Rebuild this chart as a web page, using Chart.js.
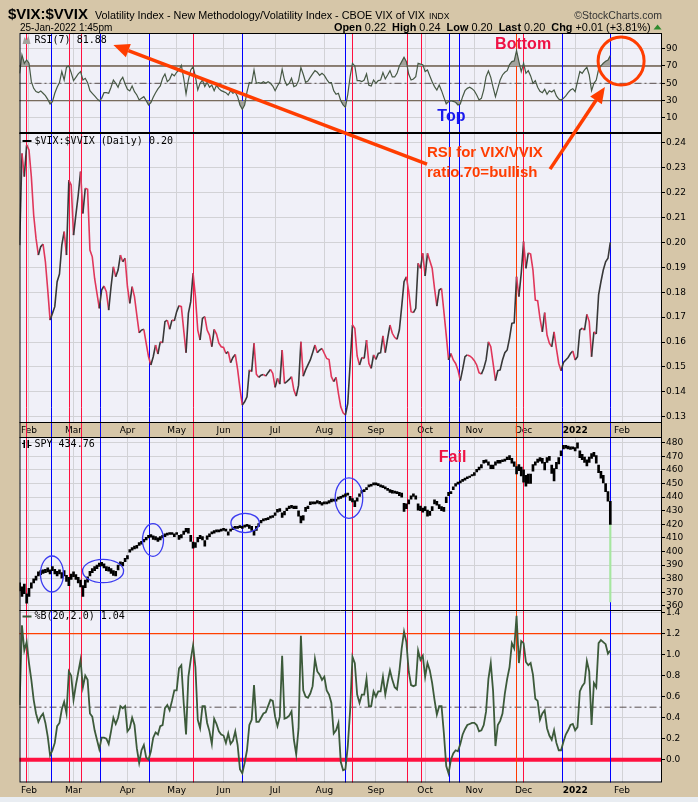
<!DOCTYPE html>
<html>
<head>
<meta charset="utf-8">
<title>$VIX:$VVIX</title>
<script src="https://cdn.jsdelivr.net/npm/chart.js@4.4.1/dist/chart.umd.min.js"></script>
<style>
  html, body { margin: 0; padding: 0; background: #d6c6a8; }
  canvas { display: block; }
</style>
</head>
<body>
<canvas id="chart" width="698" height="802"></canvas>
<script>
// ---- data: one value per trading day, 26-Jan-2021 .. 25-Jan-2022 (index 0..252) ----
const monthIdx = [4, 23, 46, 67, 87, 109, 130, 152, 173, 194, 215, 237, 257];
const monthLabels = ["Feb", "Mar", "Apr", "May", "Jun", "Jul", "Aug", "Sep", "Oct", "Nov", "Dec", "2022", "Feb"];

const rsiTicks = [10, 30, 50, 70, 90];
const ratioTicks = [0.13, 0.14, 0.15, 0.16, 0.17, 0.18, 0.19, 0.20, 0.21, 0.22, 0.23, 0.24];
const spyTicks = [360, 370, 380, 390, 400, 410, 420, 430, 440, 450, 460, 470, 480];
const pctbTicks = [0, 0.2, 0.4, 0.6, 0.8, 1.0, 1.2, 1.4];

// RSI(7) of the ratio
const rsi7 = [
  61.5, 82.7, 73.1, 76.9, 73.1, 51.9, 44.2, 40.4, 39.2, 41.2,
  38.5, 35.8, 31.5, 26.2, 28.8, 38.5, 45.4, 50.8, 63.5, 53.8,
  68.5, 70, 62.3, 53.1, 56.9, 60.8, 63.5, 53.8, 55.8, 50.8,
  41.5, 38.5, 35.4, 32.3, 29.6, 32.7, 39.2, 39.2, 38.5, 45.4,
  53.8, 50, 45.4, 53.1, 56.9, 49.2, 43.1, 41.2, 46.9, 40.4,
  36.5, 30.8, 32.7, 34.6, 30, 25, 27.7, 33.8, 39.2, 43.5,
  46.9, 55.8, 60.8, 51.9, 54.6, 60.8, 58.5, 62.7, 65.4, 70.8,
  55.8, 37.7, 53.8, 65.4, 69.2, 57.7, 42.3, 50, 53.8, 46.2,
  51.2, 45.4, 48.1, 41.5, 47.7, 43.8, 41.5, 40.4, 39.2, 36.5,
  41.5, 38.5, 40, 34.6, 25, 20, 25, 40, 50.8, 50,
  65.4, 50, 50.8, 50, 51.9, 50, 51.9, 50, 46.9, 41.5,
  46.9, 51.5, 66.2, 53.8, 47.7, 50, 55.8, 46.2, 47.3, 53.1,
  68.1, 60.4, 51.2, 52.7, 56.9, 60.8, 64.6, 62.7, 59.2, 61.5,
  59.2, 54.6, 50.8, 50.8, 41.5, 37.3, 38.5, 30, 25, 22.3,
  37.3, 57.7, 73.1, 70, 53.1, 53.1, 51.9, 53.8, 60.8, 47.7,
  46.9, 53.8, 50, 53.1, 53.8, 62.3, 55, 59.6, 64.6, 57.3,
  57.3, 61.5, 70, 75, 80, 75, 60.4, 53.8, 55, 57.7,
  73.1, 72.3, 71.5, 63.5, 65.4, 58.5, 51.9, 46.2, 42.3, 48.1,
  41.5, 33.8, 26.2, 28.8, 30, 29.2, 28.1, 25, 26.2, 34.6,
  41.5, 44.2, 45.4, 43.8, 41.2, 36.5, 30.8, 32.7, 42.3, 57.7,
  64.2, 56.9, 45.4, 34.6, 44.2, 53.8, 59.6, 62.7, 64.6, 71.5,
  75, 75.8, 87.7, 75, 63.5, 73.1, 61.5, 64.6, 58.5, 50,
  53.1, 45.4, 40.8, 39.2, 43.1, 37.3, 41.5, 40, 42.3, 35.4,
  31.9, 30.8, 32.7, 35.4, 39.2, 42.3, 43.8, 40.4, 51.9, 63.5,
  61.5, 65.4, 68.5, 59.6, 41.5, 50, 53.8, 66.2, 70, 73.1,
  75.4, 76.9, 81.88
];

// $VIX:$VVIX daily ratio
const ratio = [
  0.1989, 0.2357, 0.2264, 0.2391, 0.2371, 0.2264, 0.2110, 0.2016, 0.1949, 0.1983,
  0.1993, 0.1922, 0.1809, 0.1688, 0.1715, 0.1742, 0.1842, 0.1873, 0.1989, 0.2043,
  0.1949, 0.2250, 0.2230, 0.2029, 0.2110, 0.2190, 0.2284, 0.2116, 0.2217, 0.2213,
  0.1969, 0.1942, 0.1855, 0.1795, 0.1735, 0.1809, 0.1825, 0.1802, 0.1728, 0.1822,
  0.1902, 0.1862, 0.1889, 0.1949, 0.1922, 0.1936, 0.1822, 0.1755, 0.1822, 0.1782,
  0.1708, 0.1637, 0.1648, 0.1651, 0.1595, 0.1541, 0.1508, 0.1541, 0.1588, 0.1552,
  0.1601, 0.1597, 0.1682, 0.1688, 0.1651, 0.1688, 0.1685, 0.1722, 0.1746, 0.1742,
  0.1648, 0.1557, 0.1715, 0.1762, 0.1876, 0.1782, 0.1648, 0.1608, 0.1695, 0.1702,
  0.1648, 0.1628, 0.1581, 0.1651, 0.1632, 0.1595, 0.1581, 0.1578, 0.1554, 0.1561,
  0.1517, 0.1538, 0.1550, 0.1490, 0.1414, 0.1347, 0.1360, 0.1380, 0.1488, 0.1481,
  0.1595, 0.1471, 0.1458, 0.1467, 0.1470, 0.1463, 0.1477, 0.1490, 0.1474, 0.1418,
  0.1454, 0.1431, 0.1568, 0.1434, 0.1441, 0.1450, 0.1461, 0.1407, 0.1383, 0.1427,
  0.1601, 0.1463, 0.1488, 0.1508, 0.1528, 0.1557, 0.1588, 0.1557, 0.1568, 0.1574,
  0.1554, 0.1534, 0.1530, 0.1461, 0.1441, 0.1458, 0.1394, 0.1340, 0.1316, 0.1307,
  0.1354, 0.1514, 0.1668, 0.1655, 0.1544, 0.1508, 0.1538, 0.1534, 0.1608, 0.1514,
  0.1494, 0.1548, 0.1530, 0.1554, 0.1557, 0.1625, 0.1557, 0.1615, 0.1668, 0.1635,
  0.1619, 0.1611, 0.1648, 0.1742, 0.1842, 0.1862, 0.1802, 0.1722, 0.1718, 0.1735,
  0.1916, 0.1896, 0.1956, 0.1865, 0.1956, 0.1926, 0.1896, 0.1815, 0.1744, 0.1809,
  0.1815, 0.1722, 0.1628, 0.1528, 0.1554, 0.1528, 0.1514, 0.1488, 0.1445, 0.1490,
  0.1541, 0.1548, 0.1544, 0.1537, 0.1525, 0.1508, 0.1477, 0.1471, 0.1494, 0.1528,
  0.1601, 0.1581, 0.1514, 0.1445, 0.1485, 0.1488, 0.1528, 0.1557, 0.1568, 0.1615,
  0.1675, 0.1677, 0.1862, 0.1782, 0.1876, 0.2003, 0.1896, 0.1958, 0.1953, 0.1889,
  0.1768, 0.1766, 0.1695, 0.1641, 0.1718, 0.1628, 0.1595, 0.1581, 0.1641, 0.1574,
  0.1514, 0.1485, 0.1518, 0.1528, 0.1538, 0.1554, 0.1564, 0.1528, 0.1541, 0.1648,
  0.1656, 0.1648, 0.1711, 0.1682, 0.1541, 0.1641, 0.1632, 0.1789, 0.1842, 0.1889,
  0.1922, 0.1936, 0.2000
];

// SPY daily low / high
const spyLow = [
  371, 367, 369, 362, 367, 373, 377, 379, 382, 383,
  384, 384.5, 385, 383.5, 386, 383.5, 382, 383.5, 380.5, 382,
  378, 375, 379.5, 381.5, 379.5, 377, 374, 367, 373.5, 377.5,
  382, 384.5, 386, 387.5, 389, 389.5, 388, 386, 385.5, 384,
  382.5, 382, 386.5, 390, 389.5, 392.5, 394.5, 399.5, 401, 402,
  402.5, 404.5, 405.5, 407, 408.5, 410, 410.5, 409, 408.5, 407.5,
  408.5, 410, 411, 412, 412.5, 412.5, 411, 412.5, 409, 410,
  412.5, 414.5, 413.5, 407.5, 402.5, 403, 407, 409.5, 408.5, 404,
  409, 411, 413, 413.5, 414.5, 414.5, 415, 415.5, 415, 412,
  415, 416, 417, 417, 417.5, 417, 418, 418.5, 417, 415.5,
  412, 415.5, 418.5, 421, 422.5, 423, 423.5, 424.5, 425, 426.5,
  429, 429.5, 425, 427, 430, 431.5, 432, 431.5, 431.5, 426,
  421, 423, 429.5, 431.5, 434.5, 435, 435, 435.5, 435, 434,
  435, 435, 435.5, 436.5, 437, 437, 438.5, 439, 440, 440.5,
  441.5, 437.5, 436.5, 433, 437, 440.5, 443, 444, 445.5, 447.5,
  448, 449, 449, 448.5, 447.5, 447, 446, 445, 443.5, 443,
  443, 442.5, 441, 440, 429.5, 431.5, 435, 438.5, 440.5, 438.5,
  430.5, 430, 429, 430, 426, 426.5, 430, 435, 434, 431.5,
  430, 429.5, 436, 441, 442.5, 445.5, 448, 449.5, 450.5, 451.5,
  452.5, 453.5, 454.5, 455.5, 456, 458.5, 460, 461.5, 465, 465.5,
  463.5, 461, 461, 463.5, 465, 465, 466, 466.5, 467.5, 467.5,
  465, 462.5, 457, 459.5, 455.5, 451, 448, 450, 450, 459,
  463.5, 465.5, 466.5, 465, 460, 465.5, 467, 457.5, 452, 461,
  464.5, 470.5, 475.5, 476, 475.5, 475, 475.5, 474, 476, 469,
  467.5, 465.5, 463, 465.5, 468.5, 470, 465, 458, 454, 450.5,
  444, 437, 420
];
const spyHigh = [
  377, 374, 376, 369, 373, 377, 380, 382, 385, 386,
  386.5, 387, 388, 386.5, 389, 387, 385.5, 386.5, 384.5, 386,
  382.5, 381, 383.5, 385, 383, 381, 379, 375, 379, 381.5,
  385.5, 387.5, 389, 390, 391.5, 392, 391, 389, 388.5, 387.5,
  386, 385.5, 390, 392.5, 392, 395, 397, 401.5, 403, 404,
  404.5, 406.5, 407.5, 409, 410.5, 412, 412.5, 411.5, 411, 410,
  411, 412, 413, 413.5, 414, 414, 413, 414, 412, 412.5,
  415, 417, 417, 412, 407, 406.5, 410.5, 412, 411, 408,
  411.5, 413, 414.5, 415.5, 416, 416, 416.5, 417, 416.5, 414.5,
  416.5, 418, 418.5, 418.5, 419, 418.5, 419.5, 420, 419.5, 418.5,
  415.5, 418.5, 420.5, 423, 424, 424.5, 425, 426, 426.5, 428.5,
  431, 431.5, 428.5, 429.5, 432, 433.5, 434, 433.5, 433.5, 430,
  426, 426.5, 432.5, 433.5, 436.5, 436.5, 436.5, 437.5, 437, 436,
  436.5, 436.5, 437.5, 438.5, 438.5, 438.5, 440, 440.5, 441.5, 442.5,
  443, 440.5, 439, 437.5, 439.5, 442.5, 445, 445.5, 447, 449,
  449.5, 450.5, 450.5, 450, 449, 448.5, 447.5, 446.5, 445.5, 445,
  444.5, 444, 443.5, 443, 435.5, 435, 438, 441, 442.5, 441,
  435, 433.5, 432, 433, 430.5, 429.5, 433, 438, 437, 434.5,
  433, 432.5, 440, 443.5, 444, 447.5, 450, 451, 452, 453,
  454, 455, 455.5, 456.5, 458, 460.5, 462, 464, 467, 467.5,
  466, 463.5, 463.5, 466, 467, 467, 467.5, 468, 469.5, 470.5,
  468.5, 466, 462.5, 464, 462, 460, 456, 457, 457, 464,
  466, 468, 469, 468.5, 465.5, 469, 470, 463.5, 461, 465.5,
  469, 474, 478, 478, 477.5, 477, 477, 476.5, 480, 474,
  471.5, 469.5, 467.5, 469.5, 472, 473, 470.5, 463.5, 459, 456,
  450, 444, 437
];
// the pale green stub under the last SPY bar
const spyStub = [363, 420];

// %B(20,2.0) of SPY
const pctB = [
  0.52, 1.28, 1.04, 1.12, 0.92, 0.76, 0.57, 0.44, 0.36, 0.41,
  0.44, 0.35, 0.22, 0.04, 0.09, 0.16, 0.32, 0.35, 0.48, 0.55,
  0.44, 0.84, 0.80, 0.57, 0.71, 0.83, 0.95, 0.69, 0.80, 0.76,
  0.44, 0.41, 0.28, 0.19, 0.10, 0.21, 0.21, 0.20, 0.15, 0.27,
  0.40, 0.34, 0.40, 0.51, 0.49, 0.51, 0.27, 0.30, 0.40, 0.33,
  0.11, -0.03, 0.09, 0.14, 0.02, 0.00, 0.08, 0.21, 0.26, 0.24,
  0.32, 0.33, 0.49, 0.52, 0.47, 0.56, 0.66, 0.66, 0.87, 0.90,
  0.54, 0.24, 0.79, 0.95, 1.09, 0.88, 0.38, 0.30, 0.51, 0.51,
  0.35, 0.27, 0.15, 0.39, 0.34, 0.27, 0.24, 0.23, 0.16, 0.25,
  0.15, 0.18, 0.27, 0.14, -0.09, -0.13, -0.03, 0.09, 0.33, 0.38,
  0.71, 0.36, 0.36, 0.40, 0.44, 0.45, 0.51, 0.57, 0.56, 0.41,
  0.32, 0.41, 0.99, 0.39, 0.40, 0.42, 0.46, 0.19, 0.05, 0.30,
  1.18, 0.66, 0.60, 0.59, 0.63, 0.70, 0.96, 0.84, 0.81, 0.76,
  0.79, 0.66, 0.62, 0.54, 0.25, 0.28, 0.35, -0.02, -0.10, -0.09,
  0.13, 0.47, 0.98, 0.92, 0.62, 0.54, 0.62, 0.62, 0.77, 0.51,
  0.51, 0.65, 0.60, 0.65, 0.65, 0.79, 0.62, 0.74, 0.85, 0.76,
  0.69, 0.67, 0.84, 1.06, 1.22, 1.12, 0.84, 0.71, 0.70, 0.71,
  1.04, 0.95, 0.99, 0.79, 0.92, 0.85, 0.73, 0.57, 0.43, 0.51,
  0.51, 0.25, -0.06, -0.13, 0.00, 0.06, 0.09, 0.08, 0.15, 0.24,
  0.29, 0.33, 0.34, 0.35, 0.35, 0.33, 0.27, 0.28, 0.33, 0.46,
  0.77, 0.92, 0.65, 0.13, 0.33, 0.37, 0.44, 0.63, 0.77, 0.88,
  1.11, 1.06, 1.37, 0.92, 1.13, 1.11, 0.93, 0.90, 0.92, 0.81,
  0.58, 0.56, 0.38, 0.44, 0.47, 0.30, 0.23, 0.19, 0.28, 0.16,
  0.09, 0.09, 0.17, 0.24, 0.28, 0.33, 0.34, 0.28, 0.31, 0.65,
  0.70, 0.73, 0.94, 0.84, 0.33, 0.73, 0.69, 1.11, 1.14, 1.12,
  1.10, 1.01, 1.04
];

// vertical marker lines (trading-day index)
const blueLines = [13.2, 34.5, 55.4, 95.0, 139.0, 183.1, 187.3, 231.2, 252.0];
const redLines = [2.6, 21.2, 26.4, 74.1, 141.8, 165.1, 171.1, 214.8];
const orangeLines = [211.9];

// ---- colours / fonts ----
const TAN = "#d6c6a8";
const PLOT_BG = "#f0f0f8";
const GRID = "#d2d2d6";
const NOTE = "#ff3d00";
const CRIMSON = "#ee1144";
const SANS = "'Liberation Sans', Arial, sans-serif";
const AXISFONT = "'DejaVu Sans', sans-serif";
const MONO = "'DejaVu Sans Mono', monospace";

const pts = arr => arr.map((v, i) => ({ x: i, y: v }));

function hline(ctx, chart, axis, v, color, width, dash) {
  const a = chart.chartArea;
  const y = chart.scales[axis].getPixelForValue(v);
  ctx.save();
  ctx.strokeStyle = color;
  ctx.lineWidth = width;
  ctx.setLineDash(dash || []);
  ctx.beginPath();
  ctx.moveTo(a.left, y);
  ctx.lineTo(a.right, y);
  ctx.stroke();
  ctx.restore();
}

function arrow(ctx, x0, y0, x1, y1, color) {
  const ang = Math.atan2(y1 - y0, x1 - x0);
  const head = 16, half = 7;
  const bx = x1 - head * Math.cos(ang), by = y1 - head * Math.sin(ang);
  ctx.strokeStyle = color;
  ctx.lineWidth = 3.5;
  ctx.beginPath();
  ctx.moveTo(x0, y0);
  ctx.lineTo(bx, by);
  ctx.stroke();
  ctx.fillStyle = color;
  ctx.beginPath();
  ctx.moveTo(x1, y1);
  ctx.lineTo(bx + half * Math.sin(ang), by - half * Math.cos(ang));
  ctx.lineTo(bx - half * Math.sin(ang), by + half * Math.cos(ang));
  ctx.closePath();
  ctx.fill();
}

function richText(ctx, parts, x, y, size) {
  parts.forEach(p => {
    ctx.font = (p.bold ? "bold " : "") + size + "px " + SANS;
    ctx.fillText(p.t, x, y);
    x += ctx.measureText(p.t).width;
  });
  return x;
}

// annotations placed in data units of each panel
const noteTexts = [
  { text: "Bottom", i: 214.8, v: 94.2, axis: "yRsi", color: CRIMSON, align: "center" },
  { text: "Top", i: 184.2, v: 11.1, axis: "yRsi", color: "#1a1aee", align: "center" },
  { text: "RSI for VIX/VVIX", i: 173.8, v: 0.2359, axis: "yRatio", color: NOTE, align: "left" },
  { text: "ratio.70=bullish", i: 173.8, v: 0.2280, axis: "yRatio", color: NOTE, align: "left" },
  { text: "Fail", i: 184.7, v: 468.7, axis: "ySpy", color: CRIMSON, align: "center" }
];
const noteArrows = [
  { from: { i: 173.8, v: 0.2314, axis: "yRatio" }, to: { i: 40.0, v: 94.2, axis: "yRsi" } },
  { from: { i: 226.3, v: 0.2294, axis: "yRatio" }, to: { i: 249.7, v: 45.7, axis: "yRsi" } }
];
const noteRings = [
  { i: 256.6, v: 75.7, axis: "yRsi", rx: 23, ry: 24, color: NOTE, width: 3 },
  { i: 13.8, v: 383.5, axis: "ySpy", rx: 11.5, ry: 18, color: "#3b3bf0", width: 1.3 },
  { i: 35.6, v: 385.7, axis: "ySpy", rx: 20.5, ry: 11.7, color: "#3b3bf0", width: 1.3 },
  { i: 56.9, v: 408.5, axis: "ySpy", rx: 10.5, ry: 16.3, color: "#3b3bf0", width: 1.3 },
  { i: 96.2, v: 421.0, axis: "ySpy", rx: 14.2, ry: 9.7, color: "#3b3bf0", width: 1.3 },
  { i: 140.5, v: 439.3, axis: "ySpy", rx: 13.8, ry: 20.2, color: "#3b3bf0", width: 1.3 }
];

const backdrop = {
  id: "backdrop",
  beforeDraw(chart) {
    const { ctx, chartArea: a } = chart;
    ctx.save();
    ctx.fillStyle = TAN;
    ctx.fillRect(0, 0, chart.width, chart.height);
    ctx.fillStyle = "#e9edf2";
    ctx.fillRect(0, 797, chart.width, 5);
    ctx.fillStyle = PLOT_BG;
    ctx.fillRect(a.left, a.top, a.right - a.left, a.bottom - a.top);
    ctx.restore();
  },
  beforeDatasetsDraw(chart) {
    const { ctx, chartArea: a, scales } = chart;
    const s = scales.yStrip, x = scales.x;
    ctx.save();
    // date strip between the ratio and SPY panels
    ctx.fillStyle = TAN;
    ctx.fillRect(a.left, s.top, a.right - a.left, s.bottom - s.top);
    ctx.fillStyle = "#000";
    ctx.textAlign = "center";
    ctx.textBaseline = "middle";
    monthIdx.forEach((v, k) => {
      ctx.font = (monthLabels[k] === "2022" ? "bold " : "") + "9px " + AXISFONT;
      ctx.fillText(monthLabels[k], x.getPixelForValue(v), (s.top + s.bottom) / 2 + 1);
    });
    // reference lines
    hline(ctx, chart, "yRsi", 70, "#6e5e4e", 1.4);
    hline(ctx, chart, "yRsi", 30, "#6e5e4e", 1.4);
    hline(ctx, chart, "yRsi", 50, "#5a5050", 1, [7, 3, 2, 3]);
    hline(ctx, chart, "yPctB", 0.5, "#5a5050", 1, [7, 3, 2, 3]);
    hline(ctx, chart, "yPctB", 1.2, "#ff4000", 1.2);
    hline(ctx, chart, "yPctB", 0, "#ff1040", 4);
    // vertical marker lines
    const vline = (v, color) => {
      const px = Math.round(x.getPixelForValue(v)) + 0.5;
      ctx.strokeStyle = color;
      ctx.lineWidth = 1;
      ctx.beginPath();
      ctx.moveTo(px, a.top);
      ctx.lineTo(px, a.bottom);
      ctx.stroke();
    };
    blueLines.forEach(v => vline(v, "#0000ff"));
    redLines.forEach(v => vline(v, "#ff1040"));
    orangeLines.forEach(v => vline(v, "#ff3a00"));
    ctx.restore();
  },
  afterDraw(chart) {
    const { ctx, chartArea: a, scales } = chart;
    const x = scales.x;
    ctx.save();

    // panel frames
    ctx.strokeStyle = "#000";
    ctx.lineWidth = 1;
    ctx.strokeRect(a.left + 0.5, a.top + 0.5, a.right - a.left - 1, a.bottom - a.top - 1);
    [scales.yRsi.bottom, scales.yRatio.bottom, scales.ySpy.top, scales.ySpy.bottom].forEach(y => {
      ctx.beginPath();
      ctx.moveTo(a.left, Math.round(y) + 0.5);
      ctx.lineTo(a.right, Math.round(y) + 0.5);
      ctx.stroke();
    });
    ctx.lineWidth = 2;
    ctx.beginPath();
    ctx.moveTo(a.left, scales.yRsi.bottom);
    ctx.lineTo(a.right, scales.yRsi.bottom);
    ctx.stroke();

    // panel legends
    ctx.textBaseline = "middle";
    ctx.textAlign = "left";
    ctx.font = "10px " + MONO;
    ctx.fillStyle = "#000";
    const lx = a.left + 15;
    const rsiY = scales.yRsi.top + 7;
    ctx.fillStyle = "#a3a39d";
    ctx.beginPath();
    ctx.moveTo(a.left + 3, rsiY + 4);
    ctx.lineTo(a.left + 5, rsiY - 3);
    ctx.lineTo(a.left + 7, rsiY);
    ctx.lineTo(a.left + 9, rsiY - 4);
    ctx.lineTo(a.left + 11, rsiY + 4);
    ctx.closePath();
    ctx.fill();
    ctx.fillStyle = "#000";
    ctx.fillText("RSI(7) 81.88", lx, rsiY);
    const rY = scales.yRatio.top + 8;
    ctx.fillRect(a.left + 3, rY - 1, 9, 2);
    ctx.fillText("$VIX:$VVIX (Daily) 0.20", lx, rY);
    const sY = scales.ySpy.top + 7;
    ctx.fillRect(a.left + 4, sY - 4, 1.5, 8);
    ctx.fillRect(a.left + 8, sY - 4, 1.5, 8);
    ctx.fillRect(a.left + 2.5, sY - 1, 3, 1);
    ctx.fillRect(a.left + 9, sY + 1, 3, 1);
    ctx.fillText("SPY 434.76", lx, sY);
    const bY = scales.yPctB.top + 7;
    ctx.fillStyle = "#3c5a3a";
    ctx.fillRect(a.left + 3, bY - 1, 9, 2);
    ctx.fillStyle = "#000";
    ctx.fillText("%B(20,2.0) 1.04", lx, bY);

    // header
    ctx.textBaseline = "alphabetic";
    ctx.fillStyle = "#000";
    ctx.font = "bold 15px " + SANS;
    ctx.fillText("$VIX:$VVIX", 8, 19);
    ctx.font = "10.8px " + SANS;
    const t = "Volatility Index - New Methodology/Volatility Index - CBOE VIX of VIX";
    ctx.fillText(t, 95, 19);
    const tw = ctx.measureText(t).width;
    ctx.font = "8.5px " + SANS;
    ctx.fillText("INDX", 95 + tw + 4, 19);
    ctx.font = "10.5px " + SANS;
    ctx.textAlign = "right";
    ctx.fillStyle = "#333";
    ctx.fillText("\u00a9StockCharts.com", 662, 19);
    ctx.textAlign = "left";
    ctx.fillStyle = "#000";
    ctx.font = "10px " + SANS;
    ctx.fillText("25-Jan-2022 1:45pm", 20, 30.5);
    const endX = richText(ctx, [
      { t: "Open", bold: true }, { t: " 0.22  " },
      { t: "High", bold: true }, { t: " 0.24  " },
      { t: "Low", bold: true }, { t: " 0.20  " },
      { t: "Last", bold: true }, { t: " 0.20  " },
      { t: "Chg", bold: true }, { t: " +0.01 (+3.81%)" }
    ], 334, 30.5, 10.9);
    ctx.fillStyle = "#2e8b2e";
    ctx.beginPath();
    ctx.moveTo(endX + 3, 29.5);
    ctx.lineTo(endX + 7, 24.5);
    ctx.lineTo(endX + 11, 29.5);
    ctx.closePath();
    ctx.fill();

    // annotations
    const P = n => ({ px: x.getPixelForValue(n.i), py: scales[n.axis].getPixelForValue(n.v) });
    noteRings.forEach(r => {
      const p = P(r);
      ctx.strokeStyle = r.color;
      ctx.lineWidth = r.width;
      ctx.beginPath();
      ctx.ellipse(p.px, p.py, r.rx, r.ry, 0, 0, Math.PI * 2);
      ctx.stroke();
    });
    noteArrows.forEach(n => {
      const f = P(n.from), e = P(n.to);
      arrow(ctx, f.px, f.py, e.px, e.py, NOTE);
    });
    ctx.textBaseline = "middle";
    noteTexts.forEach(n => {
      const p = P(n);
      ctx.font = "bold " + (n.axis === "yRatio" ? 15 : 16) + "px " + SANS;
      ctx.fillStyle = n.color;
      ctx.textAlign = n.align;
      ctx.fillText(n.text, p.px, p.py);
    });
    ctx.restore();
  }
};

const fixW = s => { s.width = 30; };
const yAxis = (min, max, ticks, fmt) => ({
  type: "linear",
  position: "right",
  stack: "panels",
  min: min,
  max: max,
  afterFit: fixW,
  afterBuildTicks: s => { s.ticks = ticks.map(v => ({ value: v })); },
  border: { display: false },
  grid: { color: GRID, tickColor: "#000", tickLength: 3 },
  ticks: {
    color: "#000", font: { family: AXISFONT, size: 9 }, padding: 1,
    autoSkip: false, callback: fmt
  }
});

const scales = {
  x: {
    type: "linear",
    offset: false,
    min: -0.05,
    max: 274.05,
    afterFit: s => { s.height = 14; },
    afterBuildTicks: s => { s.ticks = monthIdx.map(v => ({ value: v })); },
    border: { display: false },
    grid: { color: GRID, drawTicks: false, offset: false },
    ticks: {
      color: "#000",
      padding: 3,
      maxRotation: 0,
      autoSkip: false,
      font: ctx => ({ family: AXISFONT, size: 9, weight: monthLabels[ctx.index] === "2022" ? "bold" : "normal" }),
      callback: (v, k) => monthLabels[k]
    }
  },
  yRsi: Object.assign(yAxis(-7.3, 108, rsiTicks, v => String(v)), { stackWeight: 100 }),
  yRatio: Object.assign(yAxis(0.1279, 0.2439, ratioTicks, v => v.toFixed(2)), { stackWeight: 289 }),
  yStrip: {
    type: "linear", position: "right", stack: "panels", stackWeight: 15, min: 0, max: 1,
    afterFit: fixW,
    border: { display: false }, grid: { display: false }, ticks: { display: false }
  },
  ySpy: Object.assign(yAxis(357.4, 484.2, spyTicks, v => String(v)), { stackWeight: 172.5 }),
  yPctB: Object.assign(yAxis(-0.217, 1.43, pctbTicks, v => v.toFixed(1)), { stackWeight: 173 })
};

const UP = "#383838", DOWN = "#e0365a";
const spyBars = spyLow.map((lo, i) => ({ x: i, y: [lo, spyHigh[i]] }));

new Chart(document.getElementById("chart"), {
  type: "line",
  data: {
    datasets: [
      {
        data: pts(rsi7), yAxisID: "yRsi", borderColor: "#465844", borderWidth: 1.2,
        pointRadius: 0, tension: 0,
        fill: { target: { value: 70 }, above: "#a3a39d", below: "rgba(0,0,0,0)" }
      },
      {
        data: pts(rsi7), yAxisID: "yRsi", borderColor: "rgba(0,0,0,0)", borderWidth: 0,
        pointRadius: 0, tension: 0,
        fill: { target: { value: 30 }, above: "rgba(0,0,0,0)", below: "#a3a39d" }
      },
      {
        data: pts(ratio), yAxisID: "yRatio", borderWidth: 1.6, pointRadius: 0, tension: 0,
        borderColor: UP,
        segment: { borderColor: c => (c.p1.parsed.y < c.p0.parsed.y ? DOWN : UP) }
      },
      {
        type: "bar", data: spyBars, yAxisID: "ySpy", backgroundColor: "#000",
        barThickness: 2, grouped: false
      },
      {
        type: "bar", data: [{ x: 252, y: spyStub }], yAxisID: "ySpy", backgroundColor: "#a6e6a0",
        barThickness: 1.5, grouped: false
      },
      {
        data: pts(pctB), yAxisID: "yPctB", borderColor: "#3c5a3a", borderWidth: 1.8,
        pointRadius: 0, tension: 0
      }
    ]
  },
  options: {
    responsive: false,
    animation: false,
    devicePixelRatio: 1,
    layout: { padding: { left: 19.5, right: 6, top: 33, bottom: 5.5 } },
    plugins: { legend: { display: false }, tooltip: { enabled: false } },
    scales: scales
  },
  plugins: [backdrop]
});
</script>
</body>
</html>
